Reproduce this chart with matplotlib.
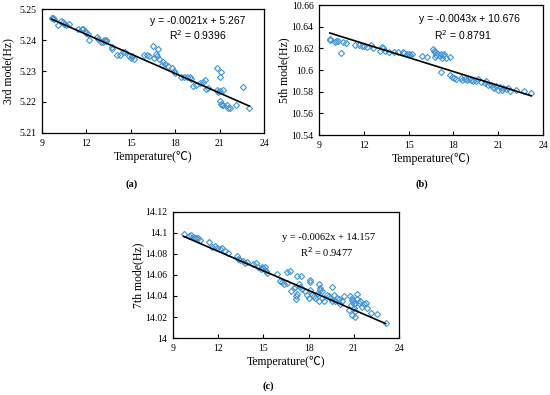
import numpy as np
import matplotlib
matplotlib.use('Agg')
import matplotlib.pyplot as plt
from matplotlib.ticker import FormatStrFormatter

# panel (a) : 3rd mode
ta = [9.65, 9.7, 9.75, 9.8, 10.1, 10.3, 10.4, 10.5, 10.6, 10.8, 11.4, 11.7, 11.8,
      11.9, 12.0, 12.1, 12.2, 12.7, 12.75, 13.0, 13.1, 13.2, 13.3, 13.35, 13.7, 13.75,
      14.1, 14.3, 14.5, 14.6, 14.9, 15.0, 15.1, 15.2, 15.9, 16.1, 16.2, 16.5, 16.6,
      16.7, 16.8, 16.85, 16.9, 17.1, 17.2, 17.3, 17.5, 17.8, 17.9, 18.0, 18.4, 18.6,
      18.8, 19.0, 19.1, 19.2, 19.4, 19.7, 19.9, 20.0, 20.1, 20.2, 20.8, 20.8, 20.9,
      21.0, 21.0, 21.05, 21.1, 21.1, 21.15, 21.2, 21.25, 21.5, 21.6, 21.7, 22.1,
      22.6, 23.0]
fa = [5.2470, 5.2472, 5.2470, 5.2468, 5.2450, 5.2462, 5.2458, 5.2452, 5.2450, 5.2453,
      5.2436, 5.2434, 5.2436, 5.2430, 5.2422, 5.2418, 5.2400, 5.2410, 5.2402, 5.2392,
      5.2395, 5.2400, 5.2398, 5.2400, 5.2372, 5.2378, 5.2352, 5.2352, 5.2362, 5.2360,
      5.2350, 5.2342, 5.2348, 5.2340, 5.2352, 5.2352, 5.2350, 5.2382, 5.2342, 5.2355,
      5.2350, 5.2372, 5.2338, 5.2318, 5.2328, 5.2322, 5.2315, 5.2310, 5.2300, 5.2292,
      5.2282, 5.2282, 5.2280, 5.2282, 5.2275, 5.2252, 5.2255, 5.2262, 5.2265, 5.2270,
      5.2242, 5.2245, 5.2310, 5.2240, 5.2232, 5.2235, 5.2202, 5.2282, 5.2298, 5.2192,
      5.2190, 5.2240, 5.2190, 5.2190, 5.2182, 5.2180, 5.2190, 5.2250, 5.2180]

# panel (b) : 5th mode
tb = [9.72, 9.77, 10.06, 10.17, 10.29, 10.47, 10.6, 10.8, 11.4, 11.65, 11.9, 12.0,
      12.2, 12.45, 12.6, 13.1, 13.2, 13.3, 13.45, 13.7, 14.0, 14.3, 14.6, 14.7, 14.9,
      15.0, 15.1, 15.25, 15.9, 16.2, 16.6, 16.7, 16.8, 16.9, 16.85, 16.75, 17.1, 17.2,
      17.25, 17.3, 17.35, 17.2, 17.5, 17.8, 17.8, 17.9, 18.05, 18.2, 18.5, 18.6, 18.75,
      18.9, 19.05, 19.2, 19.3, 19.5, 19.65, 19.85, 20.1, 20.2, 20.3, 20.5, 20.65, 20.75,
      20.85, 21.0, 21.1, 21.25, 21.35, 21.5, 21.65, 21.8, 22.2, 22.7, 23.2]
fb = [10.628, 10.629, 10.6255, 10.6265, 10.627, 10.616, 10.626, 10.625, 10.623,
      10.623, 10.622, 10.622, 10.621, 10.623, 10.620, 10.618, 10.621, 10.620, 10.618,
      10.617, 10.617, 10.6165, 10.617, 10.616, 10.615, 10.6145, 10.614, 10.615, 10.613,
      10.612, 10.619, 10.618, 10.617, 10.616, 10.6135, 10.612, 10.613, 10.6145, 10.6115,
      10.6135, 10.615, 10.598, 10.611, 10.612, 10.5955, 10.594, 10.593, 10.592, 10.5925,
      10.591, 10.592, 10.591, 10.592, 10.591, 10.5895, 10.5895, 10.592, 10.5885, 10.588,
      10.5895, 10.586, 10.5865, 10.584, 10.583, 10.5855, 10.582, 10.5845, 10.582, 10.583,
      10.5825, 10.5835, 10.581, 10.5815, 10.581, 10.579]

# panel (c) : 7th mode
tc = [9.71, 10.07, 10.22, 10.33, 10.44, 10.56, 10.67, 10.78, 11.38, 11.56, 11.78,
      11.93, 12.11, 12.22, 12.44, 12.67, 13.22, 13.33, 13.44, 13.67, 13.78, 13.89,
      14.33, 14.51, 14.67, 14.82, 14.89, 15.0, 15.11, 15.18, 15.22, 15.89, 16.07,
      16.22, 16.38, 16.56, 16.56, 16.78, 16.82, 17.0, 17.11, 17.16, 17.18, 17.22,
      17.22, 17.49, 17.33, 17.44, 17.56, 17.78, 17.89, 18.0, 18.11, 18.07, 18.11,
      18.22, 18.33, 18.44, 18.56, 18.67, 18.73, 18.78, 18.89, 18.67, 18.89, 19.0,
      19.22, 19.33, 19.44, 19.56, 19.56, 19.67, 19.78, 19.89, 20.0, 20.11, 20.22,
      20.33, 20.78, 20.89, 20.96, 21.0, 21.04, 21.11, 21.18, 21.22, 21.33, 21.44,
      21.56, 21.67, 21.78, 21.89, 22.11, 22.56, 23.11, 20.7, 20.9, 21.05, 20.8,
      21.1, 20.85]
fc = [14.099, 14.0975, 14.098, 14.0965, 14.0956, 14.095, 14.0956, 14.0934, 14.091,
      14.087, 14.088, 14.086, 14.085, 14.0855, 14.083, 14.081, 14.078, 14.0755,
      14.0745, 14.073, 14.0713, 14.072, 14.070, 14.0713, 14.068, 14.066, 14.068,
      14.0667, 14.0673, 14.064, 14.062, 14.061, 14.0547, 14.0534, 14.0515, 14.0524,
      14.0628, 14.064, 14.0445, 14.0477, 14.049, 14.040, 14.0367, 14.042, 14.0587,
      14.0587, 14.051, 14.049, 14.047, 14.0445, 14.0414, 14.038, 14.046, 14.0534,
      14.0556, 14.0414, 14.040, 14.038, 14.042, 14.0515, 14.048, 14.046, 14.0445,
      14.035, 14.038, 14.0357, 14.0414, 14.040, 14.038, 14.049, 14.035, 14.0414,
      14.035, 14.038, 14.0367, 14.032, 14.0357, 14.040, 14.040, 14.038, 14.035, 14.032,
      14.0288, 14.0257, 14.042, 14.0367, 14.0335, 14.035, 14.030, 14.0326, 14.0335,
      14.0288, 14.024, 14.023, 14.0146, 14.027, 14.022, 14.020, 14.031, 14.033, 14.036]

# fits from the chart
fit_a = (-0.0021, 5.267)
fit_b = (-0.0043, 10.676)
fit_c = (-0.0062, 14.157)
txt_a = ['y = -0.0021x + 5.267', 'R$^2$ = 0.9396']
txt_b = ['y = -0.0043x + 10.676', 'R$^2$ = 0.8791']
txt_c = ['y = -0.0062x + 14.157', 'R$^2$ = 0.9477']

xticks = [9, 12, 15, 18, 21, 24]
yt_a = [5.21, 5.22, 5.23, 5.24, 5.25]
yt_b = [10.54, 10.56, 10.58, 10.6, 10.62, 10.64, 10.66]
yt_c = [14, 14.02, 14.04, 14.06, 14.08, 14.1, 14.12]

serif = ['Liberation Serif', 'Noto Sans CJK SC', 'DejaVu Sans']
sans = ['Liberation Sans', 'DejaVu Sans']
blue = '#3d96dc'

fig = plt.figure(figsize=(5.5, 3.95), dpi=100)


def panel(rect, t, f, fit, txt, yt, ylab, tag, txtfont, txtpos, tagpos, ylabx):
    ax = fig.add_axes(rect)
    ax.plot(t, f, linestyle='none', marker='D', ms=3.1, mfc='none',
            mec=blue, mew=0.8)
    xx = np.array([min(t), max(t)])
    ax.plot(xx, fit[0] * xx + fit[1], color='black', lw=1.2)
    ax.set_xlim(9, 24)
    ax.set_ylim(yt[0], yt[-1])
    ax.set_xticks(xticks)
    ax.set_yticks(yt)
    ax.yaxis.set_major_formatter(FormatStrFormatter('%g'))
    ax.tick_params(direction='in', length=3, width=0.8, labelsize=7, pad=4)
    for lab in ax.get_xticklabels() + ax.get_yticklabels():
        lab.set_fontfamily(serif)
    for s in ax.spines.values():
        s.set_linewidth(0.9)
    ax.set_xlabel('Temperature(\u2103)', fontfamily=serif, fontsize=8.5, labelpad=2)
    ax.set_ylabel(ylab, fontfamily=serif, fontsize=8.5)
    ax.yaxis.set_label_coords(ylabx, 0.5)
    ax.text(txtpos[0], txtpos[1], txt[0], transform=ax.transAxes, ha='center',
            va='center', fontsize=7.5, fontfamily=txtfont)
    ax.text(txtpos[2], txtpos[3], txt[1], transform=ax.transAxes, ha='center',
            va='center', fontsize=7.5, fontfamily=txtfont)
    fig.text(tagpos[0], tagpos[1], tag, ha='center', va='center', fontsize=7.5,
             fontfamily=serif, fontweight='bold')
    return ax


panel([0.0764, 0.6633, 0.4036, 0.3139], ta, fa, fit_a, txt_a, yt_a, '3rd mode(Hz)',
      '(a)', sans, (0.70, 0.90, 0.70, 0.79), (132 / 550, 1 - 184 / 395), -0.125)
panel([0.58, 0.6582, 0.4073, 0.329], tb, fb, fit_b, txt_b, yt_b, '5th mode(Hz)',
      '(b)', sans, (0.67, 0.89, 0.64, 0.77), (422 / 550, 1 - 184 / 395), -0.13)
panel([0.3145, 0.1443, 0.411, 0.319], tc, fc, fit_c, txt_c, yt_c, '7th mode(Hz)',
      '(c)', serif, (0.69, 0.80, 0.68, 0.68), (268 / 550, 1 - 386 / 395), -0.125)

fig.savefig('out.png', dpi=100)
